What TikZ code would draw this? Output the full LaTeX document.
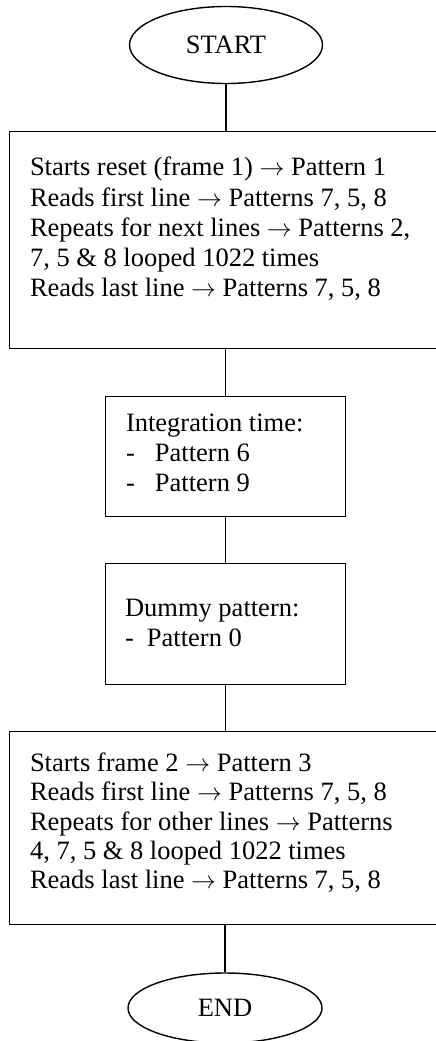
\documentclass[tikz,border=0pt]{standalone}
\usepackage{fontspec}
\setmainfont{Liberation Serif}
\usetikzlibrary{shapes.geometric}

\tikzset{
  term/.style={ellipse, draw, line width=1.4pt, inner sep=0pt,
               font=\fontsize{26.5}{30}\selectfont},
  stepbox/.style={rectangle, draw, line width=1.4pt, inner sep=0pt, anchor=north west},
  txt/.style={anchor=base west, inner sep=0pt, outer sep=0pt},
  link/.style={line width=1.4pt}
}
% a left-aligned block whose baseline is that of its first line
\newcommand{\lines}[2]{{\fontsize{26.5}{#1}\selectfont\renewcommand{\arraystretch}{1}%
  \begin{tabular}[t]{@{}l@{}}#2\end{tabular}}}
\newcommand{\ar}{$\rightarrow$}

\begin{document}
\begin{tikzpicture}[x=1pt, y=-1pt]
  \clip (0,0) rectangle (436,1041);

  % terminals
  \node[term, minimum width=193pt, minimum height=77pt] (start) at (226,45) {START};
  \node[term, minimum width=194pt, minimum height=70pt] (end) at (225,1008) {END};

  % process boxes
  \node[stepbox, minimum width=460pt, minimum height=217pt] (b1) at (9,131) {};
  \node[stepbox, minimum width=240pt, minimum height=120pt] (b2) at (105,396) {};
  \node[stepbox, minimum width=240pt, minimum height=121pt] (b3) at (105,563) {};
  \node[stepbox, minimum width=460pt, minimum height=193pt] (b4) at (9,731) {};

  % box texts
  \node[txt] (t1) at (30,175.7) {\lines{30.3}{%
    Starts reset (frame 1) \ar{} Pattern 1\\
    Reads first line \ar{} Patterns 7, 5, 8\\
    Repeats for next lines \ar{} Patterns 2,\\
    7, 5 \& 8 looped 1022 times\\
    Reads last line \ar{} Patterns 7, 5, 8}};
  \node[txt] (t2) at (126,431.7) {\lines{30}{%
    Integration time:\\
    \makebox[29pt][l]{-}Pattern 6\\
    \makebox[29pt][l]{-}Pattern 9}};
  \node[txt] (t3) at (125,616.7) {\lines{29.3}{%
    Dummy pattern:\\
    \makebox[22pt][l]{-}Pattern 0}};
  \node[txt] (t4) at (30,771.7) {\lines{29.2}{%
    Starts frame 2 \ar{} Pattern 3\\
    Reads first line \ar{} Patterns 7, 5, 8\\
    Repeats for other lines \ar{} Patterns\\
    4, 7, 5 \& 8 looped 1022 times\\
    Reads last line \ar{} Patterns 7, 5, 8}};

  % connectors
  \draw[link] (start.south) -- (start.south |- b1.north);
  \draw[link] (b2.north |- b1.south) -- (b2.north);
  \draw[link] (b2.south) -- (b3.north);
  \draw[link] (b3.south) -- (b3.south |- b4.north);
  \draw[link] (end.north |- b4.south) -- (end.north);
\end{tikzpicture}
\end{document}
